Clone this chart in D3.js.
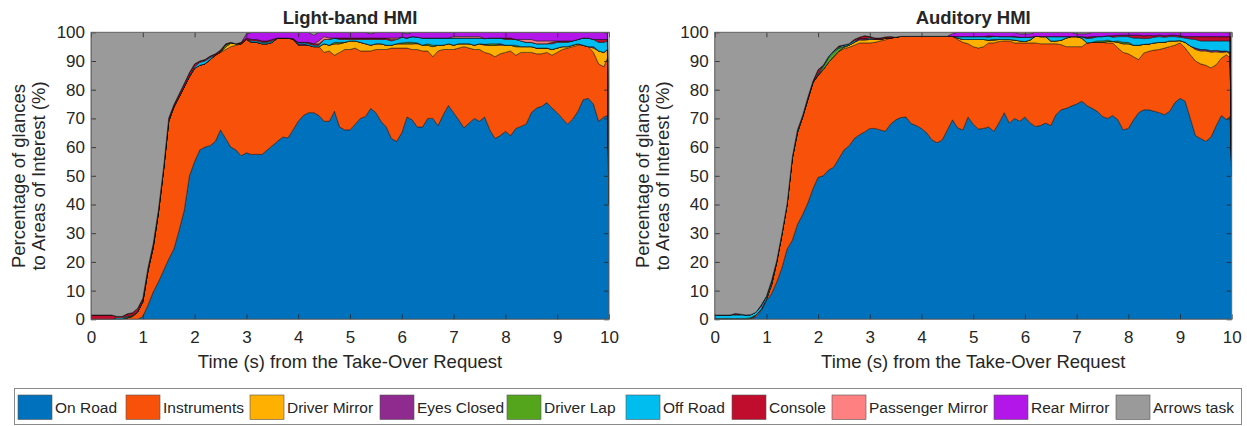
<!DOCTYPE html>
<html><head><meta charset="utf-8">
<script src="https://cdn.jsdelivr.net/npm/d3@7"></script>
<style>
body{margin:0;background:#fff;}
text{font-family:"Liberation Sans",Arial,Helvetica,sans-serif;fill:#262626;}
</style>
</head><body>
<svg id="chart" width="1247" height="426"></svg>
<script>
// ---------- DATA ----------
const times = [
0,0.1,0.2,0.3,0.4,0.5,0.6,0.7,0.8,0.9,
1,1.1,1.2,1.3,1.4,1.5,1.6,1.7,1.8,1.9,
2,2.1,2.2,2.3,2.4,2.5,2.6,2.7,2.8,2.9,
3,3.1,3.2,3.3,3.4,3.5,3.6,3.7,3.8,3.9,
4,4.1,4.2,4.3,4.4,4.5,4.6,4.7,4.8,4.9,
5,5.1,5.2,5.3,5.4,5.5,5.6,5.7,5.8,5.9,
6,6.1,6.2,6.3,6.4,6.5,6.6,6.7,6.8,6.9,
7,7.1,7.2,7.3,7.4,7.5,7.6,7.7,7.8,7.9,
8,8.1,8.2,8.3,8.4,8.5,8.6,8.7,8.8,8.9,
9,9.1,9.2,9.3,9.4,9.5,9.6,9.7,9.8,9.9,
9.97,10];

const seriesNames = ["On Road","Instruments","Driver Mirror","Eyes Closed","Driver Lap","Off Road","Console","Passenger Mirror","Rear Mirror","Arrows task"];
const seriesColors = ["#0072bd","#f8520a","#ffb000","#8f2a8f","#55a51c","#00bdf0","#c00d2e","#ff8080","#b216e8","#9a9a9a"];
const xTicks = [0,1,2,3,4,5,6,7,8,9,10];
const yTicks = [0,10,20,30,40,50,60,70,80,90,100];

// ---- Light-band HMI ----
const lightOnRoad = [
0,0,0,0,0,0,0,0,0,0,
1,5,9.5,13,17,21,24.5,31,38,50,
55,59,60,60.5,62,66,63,60,59,57,
58,57.4,57.5,57.4,59,60.5,62,63.5,63.2,66,
69,71,72,72,71,69,69,72.5,67,66,
66,68,70,70.7,73.5,72,69,67,63,62,
65,70.5,69.5,67,67,70,70,67.5,71.3,74.5,
72,69.5,66.7,68.4,70,69,70.5,66,63,64,
65.5,64,66.5,67.2,68,72,73.6,74.2,75.5,73.6,
72,70,68,69.8,72.5,76.5,77,75,69,70.5,
71,40];
const lightInstruments = [
0,0,0,0,0,0,0,0.5,1,2.5,
5,12,15.5,24,35,48,49.5,46.5,43,34.5,
32.5,29.5,29,30,30,27,31,35,36.5,39,
39.5,39.1,39,38.6,37,36,36,34.5,34.8,31.5,
26.5,24.5,23.5,23,24,24,24.5,19.5,26,28,
28,26.5,23.5,22.8,20,22,25,27,31.5,32.5,
29.5,24,24.5,27,26.5,23.5,21.5,26,22.7,19.5,
22,25,28.3,26.1,24,25,22.5,26.5,28.5,28.5,
27.5,29.5,25.5,25.8,25,21,18.9,18.3,17.5,18.4,
21,24,26.5,25.2,23,19,18,18,20,17.5,
20,0];
const lightDriverMirror = [
0,0,0,0,0,0,0,0,0,0,
0,0,0,0,0,0,0,0,0,0,
0,0,0,0,0,0,1,1.2,0.5,0,
0,0,0,0,0,0,0,0,0,0,
0,0,0,0,0,3,2,4,3,2.5,
3,2.5,3,2.5,2,2,2,1.5,1,1.5,
1.5,1.5,2,2,2,2,3.5,2,1.5,2,
1.5,1.5,1,1.5,1.5,2,2.5,3,4,3,
2.5,2,3,2,2,2,2,2,1.5,2,
1.5,1,0.5,0.5,0.5,0,0,1.5,4.5,5,
3,0];
const lightEyesClosed = [
0,0,0,0,0,0,0,0,0,0,
0.3,0,0,0,0,0,0,0,0,0,
0,0,0,0,0,0,0,0,0,0,
0,0,0,0,0,0,0,0,0,0.3,
0.5,0.5,0,0,0,0,0,0,0,0,
0,0,0,0,0,0,0,0,0,0,
0,0,0,0.3,0,0,0,0,0,0,
0,0,0,0,0,0,0.3,0,0,0.5,
0,0,0,0,0,0,0,0,0,0,
0,0,0,0,0,0,0,0.5,0,0,
0,0];
const lightDriverLap = [
0,0,0,0,0,0,0,0.3,0.3,0,
0,0,0,0,0,0,0,0,0,0,
0,0,0,0,0,0.3,0.7,0.3,0,0,
0,0,0,0,0,0,0,0,0,0,
0,0,0,0,0,0,0,0.5,0.5,0,
0,0,0,0,0,0,0,0,0,0,
0.3,0.5,0.5,0,0,0.5,0.5,0,0,0,
0,0,0,0,0,0,0,0.5,0.5,0,
0,0,0.5,0,0,0,0,0,0,0,
0,0,0,0,0,0,0,0,0,0,
0,0];
const lightOffRoad = [
0,0,0,0,0,0.5,0.5,0.3,0,0.3,
0,0,0.3,0,0,0.3,0,0,0,0.3,
0.5,1,1,0.7,0,0,0,0,0,0,
0,0.5,0.5,0.5,0.5,0.5,0,0,0,0,
0.5,0.5,0.5,0.5,0.5,1.5,2,1.5,1,1,
0.5,0.5,1,1.5,2,1.5,1.5,2,1.5,1.5,
2,1.5,2,2,2.5,2,2.5,2.5,2.5,2,
2.5,2,2,2,2.5,2,2,2,2,2,
2,2,2,2,1.5,1.5,1.5,1.5,1.5,2,
2,1.5,1.5,1.5,1.5,2.5,3,2.5,3,3.5,
3,0];
const lightConsole = [
1.5,1.5,1.5,1.5,1.5,0.5,0.5,0.8,1,1,
1,1,1,1,0.8,0.8,0.8,1,1.2,1.2,
1,0.5,0.5,0.5,0.5,0.5,0.3,0,0,0.5,
0.5,0.5,0.5,0.5,0.5,0.5,0,0,0,0,
0,0,0.5,0.5,0.5,0,0,0,0.5,0.5,
0.5,0.5,0.5,0.5,0.5,0.5,0.5,0.5,0.5,0,
0,0,0,0,0,0,0,0,0,0,
0,0,0,0,0,0,0,0,0,0,
0.5,0.5,0,0,0,0,0,0,0,0.5,
0.5,0.5,0.5,0,0,0,0,0,1,1,
0.5,0];
const lightPassengerMirror = [
0,0,0,0,0,0,0,0,0,0,
0,0,0,0,0,0,0,0,0,0,
0,0,0,0,0,0,0,0,0,0,
0,0,0,0,0,0,0,0,0,0,
0,0,0,0,1,1,0.5,0,0,0,
0,0,0,0,0,0,0,0,0.5,0.5,
0,0,0,0,0,0,0,0,0,0,
0.5,0.5,0.5,0.5,0.5,0.5,0,0,0,0,
0,0,0,0.5,1,1,1,1,1,0.5,
0,0,0,0,0,0,0,0,0,0,
0,0];
const lightRearMirror = [
0,0,0,0,0,0,0,0,0,0,
0,0,0,0,0,0,0,0,0,0,
0,0,0,0,0,0,0,0,0,0,
1.5,2.5,2.5,3,3,2.5,2,2,2,2.2,
3.5,3.5,3.5,3,3,1.5,2,2,2,2,
2,2,2,2,1.5,2,2,2,2,2,
1.7,1.5,1.5,1.7,2,2,2,2,2,2,
1.5,1.5,1.5,1.5,1.5,1.5,2.2,2,2,2,
2,2,2.5,2.5,2.5,2.5,3,3,3,3,
3,3,3,3,2.5,2,2,2.5,2.5,2.5,
2.5,0];
const lightArrowsTask = [
98.5,98.5,98.5,98.5,98.5,99,99,98.1,97.7,96.2,
92.7,82,73.7,62,47.2,29.9,25.2,21.5,17.8,14,
11,10,9.5,8.3,7.5,6.2,4,3.5,4,3.5,
0.5,0,0,0,0,0,0,0,0,0,
0,0,0,1,0,0,0,0,0,0,
0,0,0,0,0.5,0,0,0,0,0,
0,0.5,0,0,0,0,0,0,0,0,
0,0,0,0,0,0,0,0,0,0,
0,0,0,0,0,0,0,0,0,0,
0,0,0,0,0,0,0,0,0,0,
0,0];

// ---- Auditory HMI ----
const auditoryOnRoad = [
0,0,0,0,0,0,0,0,1,3,
6.5,9,13,18,24.5,27.5,33,36.5,40.5,45.5,
49.5,50,52,53,56,59,60.5,63,64.3,65.3,
66.5,66.5,66,65.5,68,69.5,70.3,70.5,68.2,67.5,
66.5,65,62.6,61.5,62.5,66,69.5,66.7,66,70.5,
68,66.3,66.5,67,65.5,68.5,72,68.4,70,69,
70.5,68.5,67.2,67.5,68.4,67.5,71.3,73,73.5,74.3,
75,76,74.5,73.5,72.5,70.7,70,71,69.5,66,
66.5,69.5,72,73,73,72.5,72,71.3,72.5,75.5,
77,76,70,64,63,62,63.5,67.5,71,69.6,
70.7,50];
const auditoryInstruments = [
0,0,0,0,0,0,0,0.3,0.5,0.5,
0.5,3,7,11.5,15.5,28.5,32,34,36,37,
35.5,37,37.5,38.5,37.4,35.3,34.3,32.5,32,31,
29.8,30,31,31.9,30,28.8,28.3,28.1,30.4,31.1,
32.1,33.6,36,37.1,36.1,32.6,29.1,30.8,30.5,25.5,
27,28.2,28.5,29.3,30.8,28.3,25,28.6,26.3,27.3,
25.8,27.8,29.1,28.5,27.6,28.5,24.7,22.7,21.5,20.7,
20,19,21.8,23,24,25.8,26.3,25.3,25,27,
26,22,18.5,19.8,20.4,21.3,22,23.2,22.5,20,
19.3,18.5,22.2,26,26,26.5,24.1,21.2,20,22.6,
20.3,0];
const auditoryDriverMirror = [
0,0,0,0,0,0,0,0,0,0,
0,0,0,0,0,0,0,0,0,0,
0,0,0,0,0,0.5,0.7,1,1,1,
1.2,1,0.5,0.5,0,0,0,0,0,0,
0,0,0,0,0,0,0,0.5,1,1.5,
2.5,3,2.5,1,1,0.7,0.5,0.5,1,0.7,
0.5,1,2.3,2.5,2.5,1,1,1.5,3,3.5,
3.5,3,0,0,0,0,0.5,0.5,2,3,
3.5,4,5,3,2.5,2.5,2.5,2,2,1.5,
0.8,2,3,4,4.5,5,5.5,4.5,2,1,
1.5,0];
const auditoryEyesClosed = [
0,0,0,0,0,0,0,0,0,0,
0,0,0,0,0,0,0,0,0,0,
0,0,0,0,0,0,0,0,0.5,0.5,
0,0,0,0,0,0,0,0,0,0,
0,0,0,0,0,0,0,0,0,0,
0,0,0,0,0,0,0,0,0,0,
0,0,0,0,0,0,0,0,0,0,
0,0,0,0,0,0,0,0,0,0,
0,0,0,0,0,0,0,0,0,0,
0,0,0,0.5,0.5,0.5,0.5,0.5,0.5,0.3,
0.5,0];
const auditoryDriverLap = [
0.3,0.3,0.3,0.3,0.3,0.3,0.3,0.3,0,0,
0,0,0,0,0,0,0,0,0,0,
0,1,1.5,1.5,1,0.3,0,0,0,0,
0,0,0,0,0,0,0,0,0,0,
0,0,0,0,0,0,0,0,0,0,
0,0,0,0,0.3,0,0,0,0,0,
0,0,0,0,0,0,0,0,0,0,
0,0,0,0,0.5,0.5,0.5,0,0.5,0.5,
0.5,0,0,0,0,0,0,0,0,0,
0,0,0,0,0,0,0,0,0,0,
0,0];
const auditoryOffRoad = [
1.2,1.2,1.2,1.2,1.2,1.2,1.2,1,1,1,
1,1,0.5,0.5,0.3,0.5,1,0,0.3,0,
0.5,0.5,0.5,0.5,0.3,0.5,0.5,0.5,0,0,
0.5,0,0,0,0,0,0,0,0,0,
0,0,0,0,0,0,0,0.5,1,1,
1,1,1,1,1,1,1,1,1,1.3,
1.5,1,0,0,0,1.5,1.5,1.3,0.5,0,
0,0.5,1.5,1.5,1.5,1.5,1.5,1.5,1.5,2,
2,2.5,2.5,2,2,2,2,1.8,1.5,1.5,
1.2,1.5,2.5,3,3,3,3.4,3.3,3.5,3.5,
4,0];
const auditoryConsole = [
0,0,0,0,0.5,0.3,0,0,0,0.5,
0,0.5,0,0,0,0,0,0.5,0.5,0.5,
1.5,0,0,0,0.5,0,0,0.5,0.5,1,
0.5,0.5,0.5,0.5,0.5,0,0,0,0,0,
0,0,0,0,0,0,0,0,0,0,
0,0,0,0.5,0,0,0,0,0.3,0,
0,0,0,0,0,0,0,0,0,0,
0,0,0.5,0.5,0,0,0,0.5,0.5,0.5,
0.5,1,1,1,1,0.5,0.5,0.5,0.5,0.5,
0.5,0.5,0.8,1,1.5,1.5,1.5,1.5,1.5,1.5,
1.5,0];
const auditoryPassengerMirror = [
0,0,0,0,0,0,0,0,0,0,
0,0,0,0,0,0,0,0,0,0,
0,0,0,0,0,0,0,0,0,0,
0,0,0,0,0,0,0,0,0,0,
0,0,0,0,0,0,0,0,0,0,
0,0,0,0,0,0,0,0,0,0,
0,0,0,0,0,0,0,0,0,0,
0,0,0,0,0,0,0,0,0,0,
0,0,0,0,0,0,0,0,0,0,
0,0,0,0,0,0,0,0,0,0,
0,0];
const auditoryRearMirror = [
0,0,0,0,0,0,0,0,0,0,
0,0,0,0,0,0,0,0,0,0,
0,0,0,0,0,0,0,0,0,0,
0,0,0,0,0,0,0,0,0,0,
0,0,0,0,0,0,1,1.5,1.5,1.5,
1.5,1.5,1.5,1.2,1.4,1.5,1.5,1.5,1.4,1.2,
1.2,1.2,1.4,1.5,1.5,1.5,1.5,1.5,1.5,1.5,
1,1,1.2,1.5,1.5,1.5,1.2,1.2,1,1,
1,1,1,1.2,1.1,1.2,1,1.2,1,1,
1.2,1.5,1.5,1.5,1.5,1.5,1.5,1.5,1.5,1.5,
1.5,0];
const auditoryArrowsTask = [
98.5,98.5,98.5,98.5,98,98.2,98.5,98.4,97.5,95,
92,86.5,79.5,70,59.7,43.5,34,29,22.7,17,
13,11.5,8.5,6.5,4.8,4.4,4,2.5,1.7,1.2,
1.5,2,2,1.6,1.5,1.7,1.4,1.4,1.4,1.4,
1.4,1.4,1.4,1.4,1.4,1.4,0.4,0,0,0,
0,0,0,0,0,0,0,0,0,0.5,
0.5,0.5,0,0,0,0,0,0,0,0,
0.5,0.5,0.5,0,0,0,0,0,0,0,
0,0,0,0,0,0,0,0,0,0,
0,0,0,0,0,0,0,0,0,0,
0,0];

// ---------- LAYOUT ----------
const svg = d3.select("#chart");
const plotTop = 32.3, plotBottom = 319.3;
const panels = [
  {title:"Light-band HMI", x0:91, x1:609,
   series:[lightOnRoad,lightInstruments,lightDriverMirror,lightEyesClosed,lightDriverLap,lightOffRoad,lightConsole,lightPassengerMirror,lightRearMirror,lightArrowsTask]},
  {title:"Auditory HMI", x0:714.7, x1:1231.7,
   series:[auditoryOnRoad,auditoryInstruments,auditoryDriverMirror,auditoryEyesClosed,auditoryDriverLap,auditoryOffRoad,auditoryConsole,auditoryPassengerMirror,auditoryRearMirror,auditoryArrowsTask]}
];
const keys = seriesNames.map((_,i)=>"s"+i);

panels.forEach((p,pi)=>{
  const x = d3.scaleLinear().domain([0,10]).range([p.x0,p.x1]);
  const y = d3.scaleLinear().domain([0,100]).range([plotBottom,plotTop]);
  const rows = times.map((t,i)=>{
    const r = {t:t};
    keys.forEach((k,j)=>{ r[k] = p.series[j][i] || 0; });
    return r;
  });
  const stacked = d3.stack().keys(keys)(rows);
  const clipId = "clip"+pi;
  svg.append("clipPath").attr("id",clipId).append("rect")
    .attr("x",p.x0).attr("y",plotTop).attr("width",p.x1-p.x0).attr("height",plotBottom-plotTop);
  const g = svg.append("g").attr("clip-path","url(#"+clipId+")");
  g.append("rect").attr("x",p.x0).attr("y",plotTop).attr("width",p.x1-p.x0).attr("height",plotBottom-plotTop).attr("fill","#fff");
  const area = d3.area().x(d=>x(d.data.t)).y0(d=>y(d[0])).y1(d=>y(d[1]));
  g.selectAll("path.layer").data(stacked).enter().append("path")
    .attr("class","layer")
    .attr("d",area)
    .attr("fill",(d,i)=>seriesColors[i])
    .attr("stroke","#111")
    .attr("stroke-opacity",0.85)
    .attr("stroke-width",0.6)
    .attr("stroke-linejoin","round");

  // axes (ticks inward, MATLAB style)
  const ax = svg.append("g").attr("class","axes");
  const xb = ax.append("g").attr("transform","translate(0,"+plotBottom+")")
    .call(d3.axisBottom(x).tickValues(xTicks).tickFormat(d3.format("d")).tickSizeInner(-5).tickSizeOuter(0).tickPadding(11.5));
  const xt = ax.append("g").attr("transform","translate(0,"+plotTop+")")
    .call(d3.axisTop(x).tickValues(xTicks).tickFormat("").tickSizeInner(-5).tickSizeOuter(0));
  const yl = ax.append("g").attr("transform","translate("+p.x0+",0)")
    .call(d3.axisLeft(y).tickValues(yTicks).tickFormat(d3.format("d")).tickSizeInner(-5).tickSizeOuter(0).tickPadding(6));
  const yr = ax.append("g").attr("transform","translate("+p.x1+",0)")
    .call(d3.axisRight(y).tickValues(yTicks).tickFormat("").tickSizeInner(-5).tickSizeOuter(0));
  [xb,xt,yl,yr].forEach(a=>{
    a.select(".domain").remove();
    a.selectAll(".tick line").attr("stroke","#262626").attr("stroke-width",0.8);
    a.selectAll(".tick text").attr("font-size","17px").attr("fill","#262626")
      .attr("font-family","'Liberation Sans',Arial,Helvetica,sans-serif");
  });
  ax.append("rect").attr("x",p.x0).attr("y",plotTop).attr("width",p.x1-p.x0).attr("height",plotBottom-plotTop)
    .attr("fill","none").attr("stroke","#6a6a6a").attr("stroke-width",1);

  const cx = (p.x0+p.x1)/2;
  svg.append("text").attr("x",cx).attr("y",24).attr("text-anchor","middle")
    .attr("font-size","18.5px").attr("font-weight","bold").attr("fill","#000").text(p.title);
  svg.append("text").attr("x",cx).attr("y",368).attr("text-anchor","middle")
    .attr("font-size","18.5px").text("Time (s) from the Take-Over Request");
  const yl1 = svg.append("text").attr("transform","translate("+(p.x0-66)+",176) rotate(-90)")
    .attr("text-anchor","middle").attr("font-size","18.5px").text("Percentage of glances");
  const yl2 = svg.append("text").attr("transform","translate("+(p.x0-46)+",176) rotate(-90)")
    .attr("text-anchor","middle").attr("font-size","18.5px").text("to Areas of Interest (%)");
});

// ---------- LEGEND ----------
const legendX = [18,126,250,380,507,626,732,832,994,1116];
const lg = svg.append("g");
lg.append("rect").attr("x",14.5).attr("y",388.5).attr("width",1227).attr("height",36)
  .attr("fill","#fff").attr("stroke","#8a8a8a").attr("stroke-width",1);
seriesNames.forEach((name,i)=>{
  lg.append("rect").attr("x",legendX[i]).attr("y",395).attr("width",34).attr("height",24.5)
    .attr("fill",seriesColors[i]).attr("stroke","#555").attr("stroke-width",0.6);
  lg.append("text").attr("x",legendX[i]+37).attr("y",413).attr("font-size","15.5px").text(name);
});
</script>
</body></html>
